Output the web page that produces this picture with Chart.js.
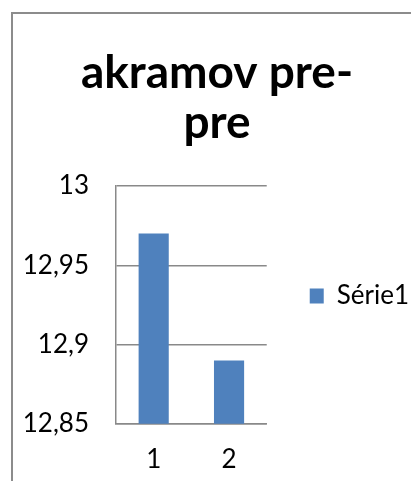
<!DOCTYPE html>
<html>
<head>
<meta charset="utf-8">
<script src="https://cdn.jsdelivr.net/npm/chart.js@4"></script>
<style>
  html, body { margin: 0; padding: 0; background: #fff; }
  #wrap { width: 411px; height: 481px; position: relative; }
</style>
</head>
<body>
<div id="wrap"><canvas id="grafico"></canvas></div>
<script>
const categorias = ['1', '2'];
const serie1 = [12.97, 12.89];
const nombreSerie = 'Série1';
const ticksY = [12.85, 12.9, 12.95, 13];
const titulo = ['akramov pre-', 'pre'];

const gris = '#898989';

// marco del gráfico (borde izquierdo y superior)
const marco = {
  id: 'marco',
  beforeDraw(chart) {
    const ctx = chart.ctx;
    ctx.save();
    ctx.strokeStyle = '#8c8c8c';
    ctx.lineWidth = 2;
    ctx.beginPath();
    ctx.moveTo(12, chart.height);
    ctx.lineTo(12, 13);
    ctx.lineTo(chart.width, 13);
    ctx.stroke();
    ctx.restore();
  }
};

// sube un poco la leyenda
const subirLeyenda = {
  id: 'subirLeyenda',
  afterLayout(chart) {
    if (chart.legend) {
      chart.legend.top -= 9;
      chart.legend.bottom -= 9;
    }
  }
};

new Chart(document.getElementById('grafico'), {
  type: 'bar',
  data: {
    labels: categorias,
    datasets: [{
      label: nombreSerie,
      data: serie1,
      backgroundColor: '#4f81bd',
      barPercentage: 0.4,
      categoryPercentage: 1
    }]
  },
  options: {
    responsive: true,
    maintainAspectRatio: false,
    animation: false,
    layout: { padding: { left: 15, right: -8, top: 0, bottom: -14 } },
    plugins: {
      title: {
        display: true,
        text: titulo,
        color: '#000',
        font: { family: 'Lato', size: 46, weight: 'bold', lineHeight: 50 / 46 },
        padding: { top: 48, bottom: 38 }
      },
      legend: {
        position: 'right',
        fullSize: false,
        maxWidth: 200,
        labels: {
          boxWidth: 14,
          boxHeight: 15,
          padding: 43,
          color: '#000',
          font: { family: 'Lato', size: 26 }
        }
      },
      tooltip: { enabled: false }
    },
    scales: {
      x: {
        grid: { display: false, drawTicks: false, tickLength: 0 },
        border: { color: gris, width: 1.5 },
        ticks: { color: '#000', padding: 20, font: { family: 'Lato', size: 26 } }
      },
      y: {
        min: 12.85,
        max: 13,
        afterBuildTicks: (axis) => {
          axis.ticks = ticksY.map(v => ({ value: v }));
        },
        grid: { color: gris, lineWidth: 1.5, drawTicks: false, tickLength: 0 },
        border: { color: gris, width: 1.5 },
        ticks: {
          color: '#000',
          padding: 27,
          font: { family: 'Lato', size: 26 },
          callback: (v) => String(v).replace('.', ',')
        }
      }
    }
  },
  plugins: [marco, subirLeyenda]
});
</script>
</body>
</html>
